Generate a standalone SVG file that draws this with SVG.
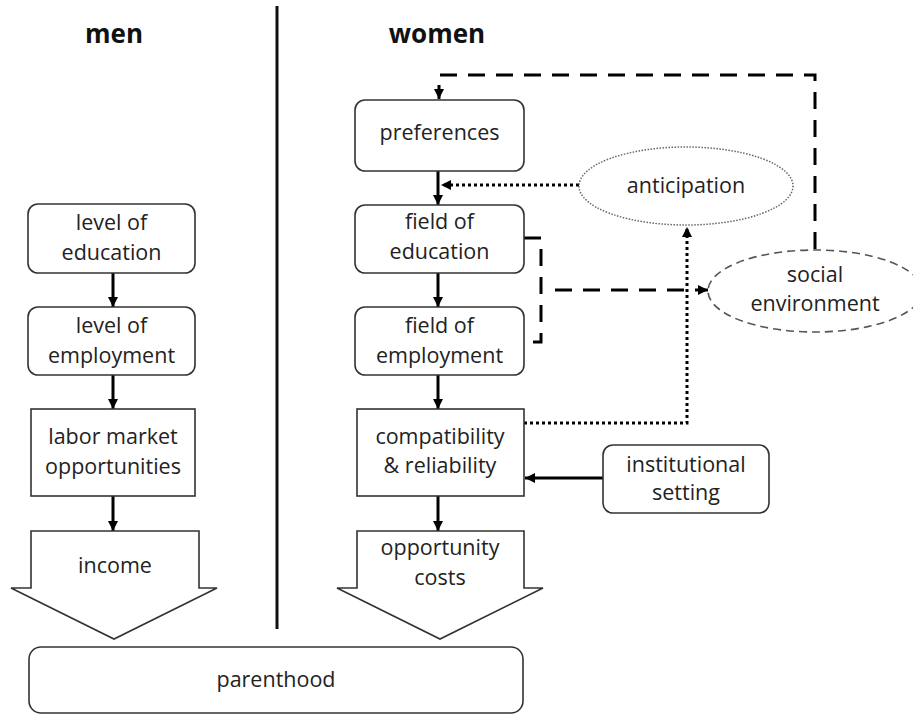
<svg xmlns="http://www.w3.org/2000/svg" width="913" height="715" viewBox="0 0 913 715">
<style>
  .box{fill:#fff;stroke:#333;stroke-width:1.6}
  .t{font-family:"Open Sans","Noto Sans",sans-serif;font-size:21.5px;fill:#222;text-anchor:middle}
  .h{font-family:"Open Sans","Noto Sans",sans-serif;font-size:26px;font-weight:bold;fill:#111;text-anchor:middle}
  .solid{fill:none;stroke:#000;stroke-width:3;marker-end:url(#ah)}
  .dash{fill:none;stroke:#000;stroke-width:3;stroke-dasharray:17 11}
  .dot{fill:none;stroke:#000;stroke-width:3;stroke-dasharray:3 3;marker-end:url(#ah)}
</style>
<defs>
  <marker id="ah" markerUnits="userSpaceOnUse" markerWidth="11" markerHeight="11" refX="10" refY="5" orient="auto">
    <path d="M0,0 L10,5 L0,10 z" fill="#000"/>
  </marker>
</defs>
<rect width="913" height="715" fill="#fff"/>

<g id="titles">
  <text class="h" x="114" y="43">men</text>
  <text class="h" x="437" y="43">women</text>
</g>
<g id="divider"><line x1="277" y1="6" x2="277" y2="629" stroke="#111" stroke-width="3"/></g>

<g id="connectors">
  <path class="solid" d="M113,273 V307"/>
  <path class="solid" d="M113,375 V409"/>
  <path class="solid" d="M113,496 V531"/>
  <path class="solid" d="M438,171 V205"/>
  <path class="solid" d="M438,273 V307"/>
  <path class="solid" d="M438,375 V409"/>
  <path class="solid" d="M438,496 V531"/>
  <path class="solid" d="M603,478 H525"/>
  <path class="dash" d="M815,249 V75 H439 V99" marker-end="url(#ah)"/>
  <path class="dash" d="M524,238 H541 V342 H524"/>
  <path class="dash" d="M555,290 H708" marker-end="url(#ah)"/>
  <path class="dot" d="M579,185 H441"/>
  <path class="dot" d="M524,423 H687 V227"/>
</g>

<g id="level-of-education">
  <rect class="box" x="28" y="204" width="167" height="69" rx="10"/>
  <text class="t" x="111.5" y="230">level of</text>
  <text class="t" x="111.5" y="260">education</text>
</g>
<g id="level-of-employment">
  <rect class="box" x="28" y="307" width="167" height="68" rx="10"/>
  <text class="t" x="111.5" y="333">level of</text>
  <text class="t" x="111.5" y="363">employment</text>
</g>
<g id="labor-market">
  <rect class="box" x="31" y="409" width="164" height="87"/>
  <text class="t" x="113" y="444">labor market</text>
  <text class="t" x="113" y="474">opportunities</text>
</g>
<g id="income">
  <path class="box" d="M31,531 H199 V588 H217 L114,639 L11,588 H31 Z"/>
  <text class="t" x="115" y="573">income</text>
</g>

<g id="preferences">
  <rect class="box" x="355" y="100" width="169" height="71" rx="10"/>
  <text class="t" x="439.5" y="140">preferences</text>
</g>
<g id="field-of-education">
  <rect class="box" x="355" y="205" width="169" height="68" rx="10"/>
  <text class="t" x="439.5" y="229">field of</text>
  <text class="t" x="439.5" y="259">education</text>
</g>
<g id="field-of-employment">
  <rect class="box" x="355" y="307" width="169" height="68" rx="10"/>
  <text class="t" x="439.5" y="333">field of</text>
  <text class="t" x="439.5" y="363">employment</text>
</g>
<g id="compatibility">
  <rect class="box" x="357" y="409" width="167" height="87"/>
  <text class="t" x="440" y="444">compatibility</text>
  <text class="t" x="440" y="473">&amp; reliability</text>
</g>
<g id="opportunity-costs">
  <path class="box" d="M357,531 H524 V588 H543 L440,639 L337,588 H357 Z"/>
  <text class="t" x="440" y="555">opportunity</text>
  <text class="t" x="440" y="585">costs</text>
</g>
<g id="anticipation">
  <ellipse cx="686" cy="186" rx="107" ry="39" fill="#fff" stroke="#666" stroke-width="1.5" stroke-dasharray="1.5 1.5"/>
  <text class="t" x="686" y="193">anticipation</text>
</g>
<g id="social-environment">
  <ellipse cx="815" cy="291" rx="107" ry="41" fill="#fff" stroke="#555" stroke-width="1.6" stroke-dasharray="8 5"/>
  <text class="t" x="815" y="282">social</text>
  <text class="t" x="815" y="311">environment</text>
</g>
<g id="institutional-setting">
  <rect class="box" x="603" y="445" width="166" height="68" rx="10"/>
  <text class="t" x="686" y="472">institutional</text>
  <text class="t" x="686" y="500">setting</text>
</g>
<g id="parenthood">
  <rect class="box" x="29" y="647" width="494" height="66" rx="12"/>
  <text class="t" x="276" y="687">parenthood</text>
</g>
</svg>
